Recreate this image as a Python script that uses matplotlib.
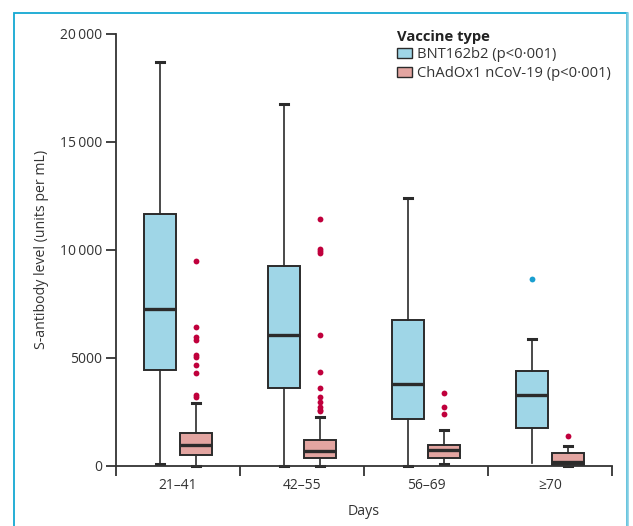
import matplotlib
matplotlib.use("Agg")
import matplotlib.pyplot as plt
from matplotlib.patches import Patch, Rectangle
from matplotlib.lines import Line2D

plt.rcParams['font.family'] = ['Open Sans', 'DejaVu Sans']

# x categories (days since vaccination)
days = ["21\u201341", "42\u201355", "56\u201369", "\u226570"]

# BNT162b2 box summaries (units per mL)
bnt_low = [90, 0, 0, 110]
bnt_q1 = [4410, 3580, 2150, 1730]
bnt_med = [7250, 6050, 3780, 3290]
bnt_q3 = [11650, 9240, 6740, 4400]
bnt_high = [18700, 16740, 12370, 5860]
bnt_out = [[], [], [], [8630]]

# ChAdOx1 nCoV-19 box summaries
chad_low = [0, 0, 90, 0]
chad_q1 = [510, 370, 370, 40]
chad_med = [960, 690, 730, 170]
chad_q3 = [1510, 1170, 960, 570]
chad_high = [2910, 2250, 1650, 930]
chad_out = [
    [9460, 6400, 5940, 5820, 5110, 5040, 4660, 4300, 3260, 3190],
    [11400, 10030, 9930, 9830, 6060, 4320, 3610, 3170, 2950, 2730, 2600, 2520],
    [3350, 2730, 2390],
    [1390],
]

yticks = [0, 5000, 10000, 15000, 20000]
ytick_labels = ["0", "5000", "10\u2009000", "15\u2009000", "20\u2009000"]

blue_fill = "#9fd6e7"
pink_fill = "#e3a5a1"
edge = "#2b2b2b"
crimson = "#c0003c"
dot_blue = "#1a9fd0"


def stats(low, q1, med, q3, high, out):
    return [dict(whislo=a, q1=b, med=c, q3=d, whishi=e, fliers=f)
            for a, b, c, d, e, f in zip(low, q1, med, q3, high, out)]


fig = plt.figure(figsize=(6.33, 5.26), dpi=100)
ax = fig.add_axes([116 / 633, 1 - 465.7 / 526, 496 / 633, 432.2 / 526])

offset = 0.145
width = 0.26
centers = list(range(len(days)))


def draw(st, pos, fill, dotcol):
    art = ax.bxp(st, positions=pos, widths=width, capwidths=0.065,
                 patch_artist=True, manage_ticks=False,
                 boxprops=dict(facecolor=fill, edgecolor=edge, linewidth=1.4),
                 medianprops=dict(color=edge, linewidth=2.4),
                 whiskerprops=dict(color=edge, linewidth=1.2),
                 capprops=dict(color=edge, linewidth=2.2),
                 flierprops=dict(marker="o", markersize=4.2, markerfacecolor=dotcol,
                                 markeredgecolor="none", linestyle="none"))
    for group in art.values():
        for a in group:
            a.set_clip_on(False)
    return art


bnt_art = draw(stats(bnt_low, bnt_q1, bnt_med, bnt_q3, bnt_high, bnt_out),
               [c - offset for c in centers], blue_fill, dot_blue)
bnt_art['caps'][6].set_visible(False)
draw(stats(chad_low, chad_q1, chad_med, chad_q3, chad_high, chad_out),
     [c + offset for c in centers], pink_fill, crimson)

ax.set_xlim(-0.5, len(days) - 0.5)
ax.set_ylim(0, 20000)
for s in ["top", "right"]:
    ax.spines[s].set_visible(False)
for s in ["left", "bottom"]:
    ax.spines[s].set_color("#333333")
    ax.spines[s].set_linewidth(1.3)

ax.set_yticks(yticks)
ax.set_yticklabels(ytick_labels, fontsize=10, color="#333333")
ax.set_xticks([c - 0.5 for c in centers] + [len(days) - 0.5])
ax.set_xticklabels([])
ax.set_xticks(centers, minor=True)
ax.set_xticklabels(days, minor=True, fontsize=10, color="#333333")
ax.tick_params(axis="both", which="major", direction="out", length=7, width=1.3, color="#333333")
ax.tick_params(axis="x", which="minor", length=0, pad=9)
ax.tick_params(axis="y", pad=3)

ax.set_ylabel("S-antibody level (units per mL)", fontsize=10.2, color="#333333", labelpad=8)
ax.set_xlabel("Days", fontsize=10.2, color="#333333", labelpad=8)

handles = [Patch(facecolor=blue_fill, edgecolor=edge, linewidth=1.0),
           Patch(facecolor=pink_fill, edgecolor=edge, linewidth=1.0)]
leg = fig.legend(handles, ["BNT162b2 (p<0\u00b7001)", "ChAdOx1 nCoV-19 (p<0\u00b7001)"],
                 title="Vaccine type", loc="upper left",
                 bbox_to_anchor=(397 / 633, 1 - 29.5 / 526), frameon=False,
                 fontsize=10.6, title_fontsize=10.6, alignment="left",
                 handlelength=1.0, handleheight=0.7, handletextpad=0.35,
                 borderpad=0, borderaxespad=0, labelspacing=0.25)
leg.get_title().set_fontweight("bold")
leg.get_title().set_color("#222222")
for t in leg.get_texts():
    t.set_color("#333333")

# panel frame around the figure
fig.patches.append(Rectangle((14 / 633, -0.05), 612.5 / 633, 1.05 - 13.3 / 526,
                             transform=fig.transFigure, fill=False,
                             edgecolor="#14a8d2", linewidth=1.3))
fig.lines.append(Line2D([626.5 / 633, 626.5 / 633], [0, 1 - 13.3 / 526],
                        transform=fig.transFigure, color="#7fcde2", linewidth=1.8))

fig.savefig("out.png", dpi=100)
